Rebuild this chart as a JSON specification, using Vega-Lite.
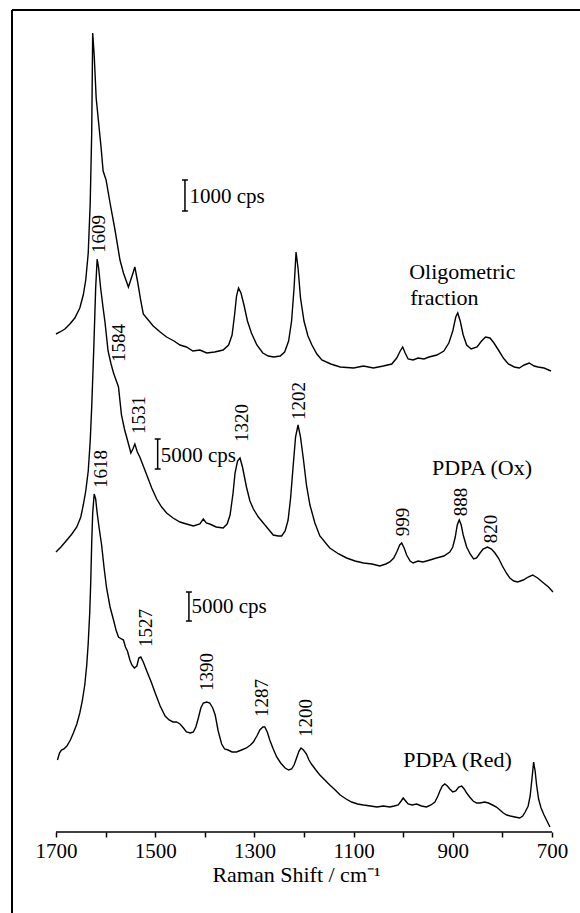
{
  "$schema": "https://vega.github.io/schema/vega-lite/v6.json",
  "width": 568,
  "height": 903,
  "autosize": {"type": "none"},
  "padding": {"left": 12, "top": 10, "right": 0, "bottom": 0},
  "background": "white",
  "config": {"view": {"stroke": null}, "font": "Liberation Serif"},
  "datasets": {
    "spectra": [
      {"series":"Oligometric fraction","wn":1700,"y":579},{"series":"Oligometric fraction","wn":1692,"y":581},{"series":"Oligometric fraction","wn":1682,"y":584},{"series":"Oligometric fraction","wn":1672,"y":589},{"series":"Oligometric fraction","wn":1662,"y":595},{"series":"Oligometric fraction","wn":1652,"y":605},{"series":"Oligometric fraction","wn":1645,"y":618},{"series":"Oligometric fraction","wn":1640,"y":633},{"series":"Oligometric fraction","wn":1635,"y":660},{"series":"Oligometric fraction","wn":1631,"y":710},{"series":"Oligometric fraction","wn":1628,"y":780},{"series":"Oligometric fraction","wn":1626,"y":880},{"series":"Oligometric fraction","wn":1623,"y":858},{"series":"Oligometric fraction","wn":1619,"y":815},{"series":"Oligometric fraction","wn":1614,"y":790},{"series":"Oligometric fraction","wn":1609,"y":765},{"series":"Oligometric fraction","wn":1605,"y":742},{"series":"Oligometric fraction","wn":1599,"y":733},{"series":"Oligometric fraction","wn":1591,"y":710},{"series":"Oligometric fraction","wn":1581,"y":683},{"series":"Oligometric fraction","wn":1571,"y":653},{"series":"Oligometric fraction","wn":1564,"y":640},{"series":"Oligometric fraction","wn":1554,"y":626},{"series":"Oligometric fraction","wn":1546,"y":638},{"series":"Oligometric fraction","wn":1541,"y":646},{"series":"Oligometric fraction","wn":1535,"y":630},{"series":"Oligometric fraction","wn":1529,"y":612},{"series":"Oligometric fraction","wn":1524,"y":599},{"series":"Oligometric fraction","wn":1514,"y":593},{"series":"Oligometric fraction","wn":1504,"y":587},{"series":"Oligometric fraction","wn":1490,"y":581},{"series":"Oligometric fraction","wn":1477,"y":576},{"series":"Oligometric fraction","wn":1462,"y":572},{"series":"Oligometric fraction","wn":1450,"y":568},{"series":"Oligometric fraction","wn":1437,"y":566},{"series":"Oligometric fraction","wn":1424,"y":562},{"series":"Oligometric fraction","wn":1410,"y":563},{"series":"Oligometric fraction","wn":1396,"y":560},{"series":"Oligometric fraction","wn":1380,"y":561},{"series":"Oligometric fraction","wn":1363,"y":563},{"series":"Oligometric fraction","wn":1352,"y":568},{"series":"Oligometric fraction","wn":1345,"y":578},{"series":"Oligometric fraction","wn":1340,"y":598},{"series":"Oligometric fraction","wn":1336,"y":617},{"series":"Oligometric fraction","wn":1332,"y":625},{"series":"Oligometric fraction","wn":1327,"y":620},{"series":"Oligometric fraction","wn":1321,"y":608},{"series":"Oligometric fraction","wn":1314,"y":592},{"series":"Oligometric fraction","wn":1306,"y":580},{"series":"Oligometric fraction","wn":1295,"y":568},{"series":"Oligometric fraction","wn":1283,"y":560},{"series":"Oligometric fraction","wn":1272,"y":557},{"series":"Oligometric fraction","wn":1261,"y":556},{"series":"Oligometric fraction","wn":1248,"y":557},{"series":"Oligometric fraction","wn":1239,"y":561},{"series":"Oligometric fraction","wn":1231,"y":572},{"series":"Oligometric fraction","wn":1225,"y":592},{"series":"Oligometric fraction","wn":1220,"y":625},{"series":"Oligometric fraction","wn":1216,"y":661},{"series":"Oligometric fraction","wn":1212,"y":645},{"series":"Oligometric fraction","wn":1207,"y":615},{"series":"Oligometric fraction","wn":1200,"y":592},{"series":"Oligometric fraction","wn":1192,"y":577},{"series":"Oligometric fraction","wn":1184,"y":568},{"series":"Oligometric fraction","wn":1174,"y":559},{"series":"Oligometric fraction","wn":1164,"y":553},{"series":"Oligometric fraction","wn":1146,"y":549},{"series":"Oligometric fraction","wn":1127,"y":546},{"series":"Oligometric fraction","wn":1100,"y":545},{"series":"Oligometric fraction","wn":1080,"y":547},{"series":"Oligometric fraction","wn":1060,"y":545},{"series":"Oligometric fraction","wn":1040,"y":547},{"series":"Oligometric fraction","wn":1023,"y":549},{"series":"Oligometric fraction","wn":1013,"y":555},{"series":"Oligometric fraction","wn":1006,"y":562},{"series":"Oligometric fraction","wn":1001,"y":566},{"series":"Oligometric fraction","wn":996,"y":560},{"series":"Oligometric fraction","wn":990,"y":554},{"series":"Oligometric fraction","wn":980,"y":553},{"series":"Oligometric fraction","wn":970,"y":555},{"series":"Oligometric fraction","wn":958,"y":554},{"series":"Oligometric fraction","wn":948,"y":556},{"series":"Oligometric fraction","wn":932,"y":558},{"series":"Oligometric fraction","wn":918,"y":562},{"series":"Oligometric fraction","wn":908,"y":570},{"series":"Oligometric fraction","wn":900,"y":582},{"series":"Oligometric fraction","wn":894,"y":596},{"series":"Oligometric fraction","wn":890,"y":600},{"series":"Oligometric fraction","wn":885,"y":592},{"series":"Oligometric fraction","wn":879,"y":578},{"series":"Oligometric fraction","wn":872,"y":568},{"series":"Oligometric fraction","wn":863,"y":564},{"series":"Oligometric fraction","wn":851,"y":566},{"series":"Oligometric fraction","wn":842,"y":572},{"series":"Oligometric fraction","wn":834,"y":576},{"series":"Oligometric fraction","wn":825,"y":575},{"series":"Oligometric fraction","wn":817,"y":570},{"series":"Oligometric fraction","wn":808,"y":563},{"series":"Oligometric fraction","wn":798,"y":555},{"series":"Oligometric fraction","wn":788,"y":549},{"series":"Oligometric fraction","wn":776,"y":546},{"series":"Oligometric fraction","wn":766,"y":545},{"series":"Oligometric fraction","wn":756,"y":548},{"series":"Oligometric fraction","wn":746,"y":550},{"series":"Oligometric fraction","wn":736,"y":547},{"series":"Oligometric fraction","wn":728,"y":546},{"series":"Oligometric fraction","wn":716,"y":545},{"series":"Oligometric fraction","wn":702,"y":542},

      {"series":"PDPA (Ox)","wn":1700,"y":361},{"series":"PDPA (Ox)","wn":1690,"y":366},{"series":"PDPA (Ox)","wn":1678,"y":373},{"series":"PDPA (Ox)","wn":1668,"y":379},{"series":"PDPA (Ox)","wn":1658,"y":386},{"series":"PDPA (Ox)","wn":1650,"y":396},{"series":"PDPA (Ox)","wn":1645,"y":408},{"series":"PDPA (Ox)","wn":1640,"y":422},{"series":"PDPA (Ox)","wn":1635,"y":442},{"series":"PDPA (Ox)","wn":1631,"y":472},{"series":"PDPA (Ox)","wn":1628,"y":506},{"series":"PDPA (Ox)","wn":1624,"y":562},{"series":"PDPA (Ox)","wn":1620,"y":625},{"series":"PDPA (Ox)","wn":1617,"y":654},{"series":"PDPA (Ox)","wn":1614,"y":645},{"series":"PDPA (Ox)","wn":1610,"y":625},{"series":"PDPA (Ox)","wn":1605,"y":605},{"series":"PDPA (Ox)","wn":1601,"y":590},{"series":"PDPA (Ox)","wn":1595,"y":562},{"series":"PDPA (Ox)","wn":1589,"y":549},{"series":"PDPA (Ox)","wn":1584,"y":540},{"series":"PDPA (Ox)","wn":1574,"y":526},{"series":"PDPA (Ox)","wn":1568,"y":498},{"series":"PDPA (Ox)","wn":1562,"y":484},{"series":"PDPA (Ox)","wn":1556,"y":473},{"series":"PDPA (Ox)","wn":1549,"y":460},{"series":"PDPA (Ox)","wn":1545,"y":464},{"series":"PDPA (Ox)","wn":1541,"y":469},{"series":"PDPA (Ox)","wn":1536,"y":461},{"series":"PDPA (Ox)","wn":1531,"y":456},{"series":"PDPA (Ox)","wn":1524,"y":447},{"series":"PDPA (Ox)","wn":1517,"y":438},{"series":"PDPA (Ox)","wn":1507,"y":425},{"series":"PDPA (Ox)","wn":1497,"y":414},{"series":"PDPA (Ox)","wn":1487,"y":406},{"series":"PDPA (Ox)","wn":1477,"y":400},{"series":"PDPA (Ox)","wn":1464,"y":395},{"series":"PDPA (Ox)","wn":1450,"y":391},{"series":"PDPA (Ox)","wn":1437,"y":389},{"series":"PDPA (Ox)","wn":1423,"y":387},{"series":"PDPA (Ox)","wn":1410,"y":389},{"series":"PDPA (Ox)","wn":1403,"y":394},{"series":"PDPA (Ox)","wn":1397,"y":390},{"series":"PDPA (Ox)","wn":1390,"y":389},{"series":"PDPA (Ox)","wn":1377,"y":386},{"series":"PDPA (Ox)","wn":1363,"y":385},{"series":"PDPA (Ox)","wn":1355,"y":389},{"series":"PDPA (Ox)","wn":1349,"y":398},{"series":"PDPA (Ox)","wn":1343,"y":420},{"series":"PDPA (Ox)","wn":1339,"y":440},{"series":"PDPA (Ox)","wn":1334,"y":452},{"series":"PDPA (Ox)","wn":1329,"y":455},{"series":"PDPA (Ox)","wn":1324,"y":446},{"series":"PDPA (Ox)","wn":1316,"y":426},{"series":"PDPA (Ox)","wn":1309,"y":412},{"series":"PDPA (Ox)","wn":1302,"y":404},{"series":"PDPA (Ox)","wn":1292,"y":396},{"series":"PDPA (Ox)","wn":1282,"y":390},{"series":"PDPA (Ox)","wn":1272,"y":384},{"series":"PDPA (Ox)","wn":1262,"y":378},{"series":"PDPA (Ox)","wn":1252,"y":377},{"series":"PDPA (Ox)","wn":1245,"y":377},{"series":"PDPA (Ox)","wn":1238,"y":382},{"series":"PDPA (Ox)","wn":1232,"y":393},{"series":"PDPA (Ox)","wn":1227,"y":415},{"series":"PDPA (Ox)","wn":1222,"y":446},{"series":"PDPA (Ox)","wn":1217,"y":476},{"series":"PDPA (Ox)","wn":1212,"y":488},{"series":"PDPA (Ox)","wn":1207,"y":476},{"series":"PDPA (Ox)","wn":1201,"y":453},{"series":"PDPA (Ox)","wn":1195,"y":428},{"series":"PDPA (Ox)","wn":1188,"y":408},{"series":"PDPA (Ox)","wn":1178,"y":390},{"series":"PDPA (Ox)","wn":1168,"y":377},{"series":"PDPA (Ox)","wn":1148,"y":365},{"series":"PDPA (Ox)","wn":1130,"y":359},{"series":"PDPA (Ox)","wn":1114,"y":355},{"series":"PDPA (Ox)","wn":1097,"y":352},{"series":"PDPA (Ox)","wn":1080,"y":350},{"series":"PDPA (Ox)","wn":1063,"y":349},{"series":"PDPA (Ox)","wn":1047,"y":347},{"series":"PDPA (Ox)","wn":1035,"y":349},{"series":"PDPA (Ox)","wn":1027,"y":351},{"series":"PDPA (Ox)","wn":1019,"y":355},{"series":"PDPA (Ox)","wn":1013,"y":361},{"series":"PDPA (Ox)","wn":1007,"y":368},{"series":"PDPA (Ox)","wn":1003,"y":370},{"series":"PDPA (Ox)","wn":998,"y":365},{"series":"PDPA (Ox)","wn":993,"y":358},{"series":"PDPA (Ox)","wn":986,"y":352},{"series":"PDPA (Ox)","wn":980,"y":350},{"series":"PDPA (Ox)","wn":970,"y":352},{"series":"PDPA (Ox)","wn":960,"y":351},{"series":"PDPA (Ox)","wn":946,"y":353},{"series":"PDPA (Ox)","wn":933,"y":355},{"series":"PDPA (Ox)","wn":918,"y":357},{"series":"PDPA (Ox)","wn":906,"y":361},{"series":"PDPA (Ox)","wn":900,"y":366},{"series":"PDPA (Ox)","wn":895,"y":376},{"series":"PDPA (Ox)","wn":891,"y":388},{"series":"PDPA (Ox)","wn":887,"y":393},{"series":"PDPA (Ox)","wn":883,"y":388},{"series":"PDPA (Ox)","wn":879,"y":378},{"series":"PDPA (Ox)","wn":872,"y":366},{"series":"PDPA (Ox)","wn":865,"y":359},{"series":"PDPA (Ox)","wn":858,"y":354},{"series":"PDPA (Ox)","wn":852,"y":355},{"series":"PDPA (Ox)","wn":845,"y":360},{"series":"PDPA (Ox)","wn":839,"y":364},{"series":"PDPA (Ox)","wn":830,"y":366},{"series":"PDPA (Ox)","wn":822,"y":364},{"series":"PDPA (Ox)","wn":815,"y":360},{"series":"PDPA (Ox)","wn":808,"y":355},{"series":"PDPA (Ox)","wn":800,"y":347},{"series":"PDPA (Ox)","wn":792,"y":340},{"series":"PDPA (Ox)","wn":785,"y":335},{"series":"PDPA (Ox)","wn":777,"y":332},{"series":"PDPA (Ox)","wn":769,"y":331},{"series":"PDPA (Ox)","wn":758,"y":333},{"series":"PDPA (Ox)","wn":748,"y":336},{"series":"PDPA (Ox)","wn":739,"y":338},{"series":"PDPA (Ox)","wn":729,"y":335},{"series":"PDPA (Ox)","wn":717,"y":330},{"series":"PDPA (Ox)","wn":707,"y":326},{"series":"PDPA (Ox)","wn":698,"y":321},

      {"series":"PDPA (Red)","wn":1697,"y":153},{"series":"PDPA (Red)","wn":1693,"y":160},{"series":"PDPA (Red)","wn":1689,"y":163},{"series":"PDPA (Red)","wn":1684,"y":164},{"series":"PDPA (Red)","wn":1678,"y":167},{"series":"PDPA (Red)","wn":1671,"y":173},{"series":"PDPA (Red)","wn":1665,"y":180},{"series":"PDPA (Red)","wn":1658,"y":189},{"series":"PDPA (Red)","wn":1652,"y":200},{"series":"PDPA (Red)","wn":1647,"y":212},{"series":"PDPA (Red)","wn":1642,"y":228},{"series":"PDPA (Red)","wn":1638,"y":248},{"series":"PDPA (Red)","wn":1635,"y":270},{"series":"PDPA (Red)","wn":1632,"y":300},{"series":"PDPA (Red)","wn":1630,"y":330},{"series":"PDPA (Red)","wn":1628,"y":370},{"series":"PDPA (Red)","wn":1626,"y":400},{"series":"PDPA (Red)","wn":1623,"y":419},{"series":"PDPA (Red)","wn":1620,"y":414},{"series":"PDPA (Red)","wn":1617,"y":400},{"series":"PDPA (Red)","wn":1613,"y":385},{"series":"PDPA (Red)","wn":1608,"y":368},{"series":"PDPA (Red)","wn":1603,"y":345},{"series":"PDPA (Red)","wn":1598,"y":325},{"series":"PDPA (Red)","wn":1591,"y":306},{"series":"PDPA (Red)","wn":1584,"y":293},{"series":"PDPA (Red)","wn":1579,"y":283},{"series":"PDPA (Red)","wn":1574,"y":276},{"series":"PDPA (Red)","wn":1568,"y":274},{"series":"PDPA (Red)","wn":1564,"y":273},{"series":"PDPA (Red)","wn":1560,"y":266},{"series":"PDPA (Red)","wn":1556,"y":262},{"series":"PDPA (Red)","wn":1551,"y":253},{"series":"PDPA (Red)","wn":1547,"y":248},{"series":"PDPA (Red)","wn":1542,"y":245},{"series":"PDPA (Red)","wn":1537,"y":247},{"series":"PDPA (Red)","wn":1533,"y":255},{"series":"PDPA (Red)","wn":1529,"y":256},{"series":"PDPA (Red)","wn":1524,"y":251},{"series":"PDPA (Red)","wn":1517,"y":242},{"series":"PDPA (Red)","wn":1508,"y":231},{"series":"PDPA (Red)","wn":1500,"y":220},{"series":"PDPA (Red)","wn":1490,"y":207},{"series":"PDPA (Red)","wn":1480,"y":197},{"series":"PDPA (Red)","wn":1472,"y":193},{"series":"PDPA (Red)","wn":1464,"y":191},{"series":"PDPA (Red)","wn":1457,"y":191},{"series":"PDPA (Red)","wn":1450,"y":189},{"series":"PDPA (Red)","wn":1443,"y":185},{"series":"PDPA (Red)","wn":1437,"y":181},{"series":"PDPA (Red)","wn":1429,"y":180},{"series":"PDPA (Red)","wn":1423,"y":181},{"series":"PDPA (Red)","wn":1418,"y":186},{"series":"PDPA (Red)","wn":1413,"y":195},{"series":"PDPA (Red)","wn":1408,"y":205},{"series":"PDPA (Red)","wn":1403,"y":210},{"series":"PDPA (Red)","wn":1396,"y":211},{"series":"PDPA (Red)","wn":1390,"y":210},{"series":"PDPA (Red)","wn":1384,"y":205},{"series":"PDPA (Red)","wn":1379,"y":198},{"series":"PDPA (Red)","wn":1373,"y":182},{"series":"PDPA (Red)","wn":1366,"y":169},{"series":"PDPA (Red)","wn":1360,"y":164},{"series":"PDPA (Red)","wn":1353,"y":163},{"series":"PDPA (Red)","wn":1345,"y":161},{"series":"PDPA (Red)","wn":1336,"y":161},{"series":"PDPA (Red)","wn":1326,"y":163},{"series":"PDPA (Red)","wn":1316,"y":165},{"series":"PDPA (Red)","wn":1308,"y":168},{"series":"PDPA (Red)","wn":1302,"y":171},{"series":"PDPA (Red)","wn":1295,"y":177},{"series":"PDPA (Red)","wn":1289,"y":183},{"series":"PDPA (Red)","wn":1283,"y":186},{"series":"PDPA (Red)","wn":1279,"y":186},{"series":"PDPA (Red)","wn":1274,"y":181},{"series":"PDPA (Red)","wn":1269,"y":173},{"series":"PDPA (Red)","wn":1262,"y":164},{"series":"PDPA (Red)","wn":1255,"y":156},{"series":"PDPA (Red)","wn":1247,"y":150},{"series":"PDPA (Red)","wn":1238,"y":145},{"series":"PDPA (Red)","wn":1231,"y":143},{"series":"PDPA (Red)","wn":1225,"y":144},{"series":"PDPA (Red)","wn":1220,"y":148},{"series":"PDPA (Red)","wn":1215,"y":155},{"series":"PDPA (Red)","wn":1210,"y":162},{"series":"PDPA (Red)","wn":1206,"y":165},{"series":"PDPA (Red)","wn":1201,"y":163},{"series":"PDPA (Red)","wn":1195,"y":159},{"series":"PDPA (Red)","wn":1190,"y":153},{"series":"PDPA (Red)","wn":1185,"y":149},{"series":"PDPA (Red)","wn":1176,"y":143},{"series":"PDPA (Red)","wn":1168,"y":138},{"series":"PDPA (Red)","wn":1158,"y":133},{"series":"PDPA (Red)","wn":1148,"y":128},{"series":"PDPA (Red)","wn":1137,"y":123},{"series":"PDPA (Red)","wn":1127,"y":118},{"series":"PDPA (Red)","wn":1115,"y":114},{"series":"PDPA (Red)","wn":1104,"y":111},{"series":"PDPA (Red)","wn":1092,"y":109},{"series":"PDPA (Red)","wn":1080,"y":108},{"series":"PDPA (Red)","wn":1066,"y":107},{"series":"PDPA (Red)","wn":1053,"y":106},{"series":"PDPA (Red)","wn":1040,"y":107},{"series":"PDPA (Red)","wn":1027,"y":106},{"series":"PDPA (Red)","wn":1018,"y":107},{"series":"PDPA (Red)","wn":1010,"y":108},{"series":"PDPA (Red)","wn":1004,"y":112},{"series":"PDPA (Red)","wn":1000,"y":115},{"series":"PDPA (Red)","wn":995,"y":112},{"series":"PDPA (Red)","wn":990,"y":109},{"series":"PDPA (Red)","wn":982,"y":108},{"series":"PDPA (Red)","wn":973,"y":109},{"series":"PDPA (Red)","wn":963,"y":107},{"series":"PDPA (Red)","wn":953,"y":106},{"series":"PDPA (Red)","wn":944,"y":108},{"series":"PDPA (Red)","wn":936,"y":111},{"series":"PDPA (Red)","wn":930,"y":117},{"series":"PDPA (Red)","wn":926,"y":122},{"series":"PDPA (Red)","wn":921,"y":127},{"series":"PDPA (Red)","wn":916,"y":129},{"series":"PDPA (Red)","wn":911,"y":127},{"series":"PDPA (Red)","wn":906,"y":124},{"series":"PDPA (Red)","wn":900,"y":121},{"series":"PDPA (Red)","wn":894,"y":122},{"series":"PDPA (Red)","wn":888,"y":126},{"series":"PDPA (Red)","wn":882,"y":127},{"series":"PDPA (Red)","wn":877,"y":124},{"series":"PDPA (Red)","wn":872,"y":120},{"series":"PDPA (Red)","wn":866,"y":116},{"series":"PDPA (Red)","wn":859,"y":112},{"series":"PDPA (Red)","wn":852,"y":110},{"series":"PDPA (Red)","wn":845,"y":110},{"series":"PDPA (Red)","wn":836,"y":111},{"series":"PDPA (Red)","wn":828,"y":110},{"series":"PDPA (Red)","wn":820,"y":108},{"series":"PDPA (Red)","wn":812,"y":106},{"series":"PDPA (Red)","wn":805,"y":103},{"series":"PDPA (Red)","wn":798,"y":100},{"series":"PDPA (Red)","wn":791,"y":98},{"series":"PDPA (Red)","wn":784,"y":97},{"series":"PDPA (Red)","wn":775,"y":96},{"series":"PDPA (Red)","wn":765,"y":95},{"series":"PDPA (Red)","wn":759,"y":97},{"series":"PDPA (Red)","wn":754,"y":101},{"series":"PDPA (Red)","wn":748,"y":107},{"series":"PDPA (Red)","wn":744,"y":117},{"series":"PDPA (Red)","wn":740,"y":136},{"series":"PDPA (Red)","wn":737,"y":151},{"series":"PDPA (Red)","wn":734,"y":142},{"series":"PDPA (Red)","wn":731,"y":128},{"series":"PDPA (Red)","wn":727,"y":114},{"series":"PDPA (Red)","wn":722,"y":105},{"series":"PDPA (Red)","wn":716,"y":98},{"series":"PDPA (Red)","wn":710,"y":92},{"series":"PDPA (Red)","wn":704,"y":86}
    ],
    "peaks": [
      {"label":"1609","wn":1613,"y":679},
      {"label":"1584","wn":1572,"y":570},
      {"label":"1531","wn":1533,"y":498},
      {"label":"1320","wn":1325,"y":490},
      {"label":"1202","wn":1211,"y":512},
      {"label":"999","wn":1001,"y":391},
      {"label":"888","wn":884,"y":411},
      {"label":"820","wn":823,"y":384},
      {"label":"1618","wn":1609,"y":444},
      {"label":"1527","wn":1519,"y":285},
      {"label":"1390","wn":1395,"y":241},
      {"label":"1287","wn":1284,"y":215},
      {"label":"1200","wn":1196,"y":195}
    ],
    "names": [
      {"label":"Oligometric","wn":988,"y":634},
      {"label":"fraction","wn":986,"y":608},
      {"label":"PDPA (Ox)","wn":942,"y":438},
      {"label":"PDPA (Red)","wn":1000,"y":146}
    ],
    "bars": [
      {"label":"1000 cps","wn":1440,"y":733,"y2":702,"cap1":1446,"cap2":1434,"textwn":1431,"texty":716},
      {"label":"5000 cps","wn":1495,"y":474,"y2":444,"cap1":1501,"cap2":1489,"textwn":1489,"texty":457},
      {"label":"5000 cps","wn":1432,"y":321,"y2":292,"cap1":1438,"cap2":1426,"textwn":1427,"texty":306}
    ]
  },
  "layer": [
    {
      "data": {"name": "spectra"},
      "mark": {"type": "line", "color": "black", "strokeWidth": 1.4, "interpolate": "linear"},
      "encoding": {
        "x": {
          "field": "wn", "type": "quantitative",
          "scale": {"domain": [643.5, 1788.7], "reverse": true, "nice": false, "zero": false},
          "axis": {
            "values": [1700,1600,1500,1400,1300,1200,1100,1000,900,800,700],
            "labelExpr": "datum.value % 200 == 100 ? datum.label : ''",
            "format": "d",
            "domain": false, "grid": false,
            "ticks": true, "tickSize": 5, "tickWidth": 1.5, "tickColor": "black",
            "labelFont": "Liberation Serif", "labelFontSize": 21, "labelColor": "black",
            "labelPadding": 3, "labelFlush": false, "labelOverlap": false,
            "offset": -81,
            "title": "Raman Shift / cm⁻¹",
            "titleFont": "Liberation Serif", "titleFontSize": 22, "titleFontWeight": "normal",
            "titleColor": "black", "titlePadding": 3
          }
        },
        "y": {"field": "y", "type": "quantitative", "scale": {"domain": [0, 903], "nice": false, "zero": false}, "axis": null},
        "detail": {"field": "series"}
      }
    },
    {
      "data": {"values": [{}]},
      "mark": {"type": "rule", "color": "black", "strokeWidth": 1.5},
      "encoding": {
        "x": {"datum": 1700, "type": "quantitative"},
        "x2": {"datum": 700},
        "y": {"datum": 81, "type": "quantitative", "axis": null}
      }
    },
    {
      "data": {"values": [{}]},
      "mark": {"type": "rule", "color": "black", "strokeWidth": 2},
      "encoding": {
        "x": {"datum": 1788.7, "type": "quantitative"},
        "y": {"datum": 0, "type": "quantitative", "axis": null},
        "y2": {"datum": 903}
      }
    },
    {
      "data": {"values": [{}]},
      "mark": {"type": "rule", "color": "black", "strokeWidth": 2},
      "encoding": {
        "x": {"datum": 1788.7, "type": "quantitative"},
        "x2": {"datum": 643.5},
        "y": {"datum": 903, "type": "quantitative", "axis": null}
      }
    },
    {
      "data": {"name": "bars"},
      "mark": {"type": "rule", "color": "black", "strokeWidth": 1.5},
      "encoding": {
        "x": {"field": "wn", "type": "quantitative"},
        "y": {"field": "y", "type": "quantitative", "axis": null},
        "y2": {"field": "y2"}
      }
    },
    {
      "data": {"name": "bars"},
      "mark": {"type": "rule", "color": "black", "strokeWidth": 1.5},
      "encoding": {
        "x": {"field": "cap1", "type": "quantitative"},
        "x2": {"field": "cap2"},
        "y": {"field": "y", "type": "quantitative", "axis": null}
      }
    },
    {
      "data": {"name": "bars"},
      "mark": {"type": "rule", "color": "black", "strokeWidth": 1.5},
      "encoding": {
        "x": {"field": "cap1", "type": "quantitative"},
        "x2": {"field": "cap2"},
        "y": {"field": "y2", "type": "quantitative", "axis": null}
      }
    },
    {
      "data": {"name": "bars"},
      "mark": {"type": "text", "font": "Liberation Serif", "fontSize": 21, "align": "left", "baseline": "middle", "color": "black"},
      "encoding": {
        "x": {"field": "textwn", "type": "quantitative"},
        "y": {"field": "texty", "type": "quantitative", "axis": null},
        "text": {"field": "label"}
      }
    },
    {
      "data": {"name": "peaks"},
      "mark": {"type": "text", "font": "Liberation Serif", "fontSize": 19, "angle": 270, "align": "center", "baseline": "middle", "color": "black"},
      "encoding": {
        "x": {"field": "wn", "type": "quantitative"},
        "y": {"field": "y", "type": "quantitative", "axis": null},
        "text": {"field": "label"}
      }
    },
    {
      "data": {"name": "names"},
      "mark": {"type": "text", "font": "Liberation Serif", "fontSize": 22, "align": "left", "baseline": "alphabetic", "color": "black"},
      "encoding": {
        "x": {"field": "wn", "type": "quantitative"},
        "y": {"field": "y", "type": "quantitative", "axis": null},
        "text": {"field": "label"}
      }
    }
  ]
}
